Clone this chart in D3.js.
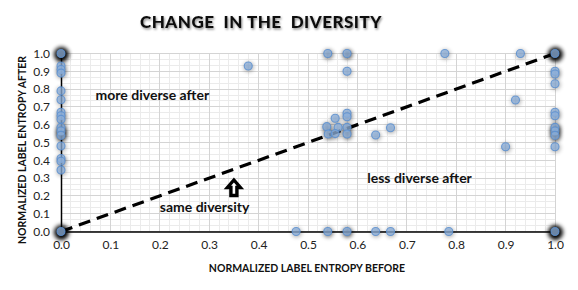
<!DOCTYPE html>
<html>
<head>
<meta charset="utf-8">
<script src="https://cdn.jsdelivr.net/npm/d3@7"></script>
<style>
  body { margin: 0; background: #fff; }
  svg { display: block; font-family: Lato, "Open Sans", sans-serif; }
</style>
</head>
<body>
<svg id="chart" width="578" height="290"></svg>
<script>
// normalized label entropy before / after, with rough count of overlapping points
const entropyBefore = [
  0, 0, 0, 0, 0, 0, 0, 0, 0, 0, 0, 0, 0, 0, 0, 0, 0,
  1, 1, 1, 1, 1, 1, 1, 1, 1, 1, 1,
  0.379, 0.54, 0.579, 0.579, 0.579, 0.579, 0.555, 0.538, 0.561, 0.579, 0.541, 0.555, 0.579, 0.637, 0.667,
  0.777, 0.93, 0.92, 0.90,
  0.476, 0.54, 0.579, 0.637, 0.667, 0.785
];
const entropyAfter = [
  1.0, 0.93, 0.91, 0.89, 0.79, 0.74, 0.67, 0.65, 0.63, 0.585, 0.565, 0.54, 0.48, 0.41, 0.395, 0.345, 0,
  1.0, 0.90, 0.885, 0.83, 0.67, 0.65, 0.585, 0.565, 0.54, 0.476, 0,
  0.93, 1.0, 1.0, 0.90, 0.664, 0.645, 0.636, 0.589, 0.585, 0.585, 0.548, 0.55, 0.548, 0.542, 0.583,
  1.0, 1.0, 0.739, 0.476,
  0, 0, 0, 0, 0, 0
];
const pointCount = [
  12, 1, 1, 1, 1, 1, 1, 1, 1, 2, 4, 4, 1, 1, 1, 1, 20,
  10, 1, 1, 1, 1, 1, 3, 3, 3, 1, 15,
  1, 2, 3, 1, 1, 1, 1, 2, 1, 2, 2, 1, 2, 1, 1,
  1, 1, 1, 1,
  1, 2, 3, 1, 1, 1
];
const tickValues = [0, 0.1, 0.2, 0.3, 0.4, 0.5, 0.6, 0.7, 0.8, 0.9, 1.0];

const annotations = [
  { text: "more diverse after", x: 0.07, y: 0.76 },
  { text: "less diverse after", x: 0.62, y: 0.29 },
  { text: "same diversity", x: 0.20, y: 0.13 }
];

const svg = d3.select("#chart");
const x = d3.scaleLinear().domain([0, 1]).range([61, 555]);
const y = d3.scaleLinear().domain([0, 1]).range([231.5, 53.5]);

const defs = svg.append("defs");
defs.append("filter").attr("id", "blur").attr("x", "-1").attr("y", "-1").attr("width", 3).attr("height", 3)
  .append("feGaussianBlur").attr("stdDeviation", 2);
const ts = defs.append("filter").attr("id", "tshadow").attr("x", "-0.1").attr("y", "-0.3").attr("width", 1.2).attr("height", 1.6);
ts.append("feDropShadow").attr("dx", 1).attr("dy", 1.5).attr("stdDeviation", 1.2)
  .attr("flood-color", "#000").attr("flood-opacity", 0.45);

// grid
const grid = svg.append("g");
grid.selectAll(".minx").data(d3.range(0, 1.0001, 0.02)).join("line")
  .attr("x1", d => x(d)).attr("x2", d => x(d)).attr("y1", y(0)).attr("y2", y(1))
  .attr("stroke", "#ebebeb").attr("shape-rendering", "crispEdges");
grid.selectAll(".miny").data(d3.range(0, 1.0001, 0.1 / 3)).join("line")
  .attr("y1", d => y(d)).attr("y2", d => y(d)).attr("x1", x(0)).attr("x2", x(1))
  .attr("stroke", "#ebebeb").attr("shape-rendering", "crispEdges");
grid.selectAll(".majx").data(tickValues).join("line")
  .attr("x1", d => x(d)).attr("x2", d => x(d)).attr("y1", y(0)).attr("y2", y(1))
  .attr("stroke", "#d4d4d4").attr("shape-rendering", "crispEdges");
grid.selectAll(".majy").data(tickValues).join("line")
  .attr("y1", d => y(d)).attr("y2", d => y(d)).attr("x1", x(0)).attr("x2", x(1))
  .attr("stroke", "#d4d4d4").attr("shape-rendering", "crispEdges");

// axes
const xAxis = svg.append("g").attr("transform", `translate(0,${y(0)})`)
  .call(d3.axisBottom(x).tickValues(tickValues).tickFormat(d3.format(".1f")).tickSize(0).tickPadding(9));
const yAxis = svg.append("g").attr("transform", `translate(${x(0)},0)`)
  .call(d3.axisLeft(y).tickValues(tickValues).tickFormat(d3.format(".1f")).tickSize(0).tickPadding(11));
[xAxis, yAxis].forEach(a => {
  a.select(".domain").attr("stroke", "#000").attr("stroke-width", 1.5);
  a.selectAll("text").attr("font-size", 12).attr("fill", "#222").attr("font-family", "Lato, sans-serif");
});

// diagonal y = x
svg.append("line")
  .attr("x1", x(0)).attr("y1", y(0)).attr("x2", x(1)).attr("y2", y(1))
  .attr("stroke", "#000").attr("stroke-width", 3.2).attr("stroke-dasharray", "12,7");

// points: blurred shadow darkens where many points overlap
const pts = entropyBefore.map((b, i) => ({ b, a: entropyAfter[i], n: pointCount[i] }));
svg.append("g").selectAll("circle").data(pts).join("circle")
  .attr("cx", d => x(d.b) + 0.5).attr("cy", d => y(d.a) + 1)
  .attr("r", d => d.n > 5 ? 7.5 : 5)
  .attr("fill", "#000")
  .attr("opacity", d => 1 - Math.pow(0.7, d.n))
  .attr("filter", "url(#blur)");
svg.append("g").selectAll("circle").data(pts).join("circle")
  .attr("cx", d => x(d.b)).attr("cy", d => y(d.a))
  .attr("r", 4)
  .attr("fill", "#8fb1dc").attr("fill-opacity", 0.75)
  .attr("stroke", "#5b8fd0").attr("stroke-width", 1.1).attr("stroke-opacity", 0.85);

// annotations
svg.append("g").selectAll("text").data(annotations).join("text")
  .attr("x", d => x(d.x)).attr("y", d => y(d.y))
  .attr("font-size", 14).attr("font-weight", 700).attr("fill", "#111")
  .attr("dominant-baseline", "middle")
  .text(d => d.text);

// up arrow pointing at the diagonal
const ax = x(0.35), ay = y(0.295);
svg.append("path")
  .attr("d", `M${ax},${ay + 1} l-6.5,7.5 h3.5 v8 h6 v-8 h3.5 z`)
  .attr("fill", "#fff").attr("stroke", "#000").attr("stroke-width", 3.4).attr("stroke-linejoin", "miter");

// titles
svg.append("text").attr("x", 261).attr("y", 28).attr("text-anchor", "middle")
  .attr("font-size", 17).attr("font-weight", 900).attr("letter-spacing", 0.5)
  .attr("fill", "#111").attr("filter", "url(#tshadow)")
  .attr("xml:space", "preserve")
  .text("CHANGE  IN THE  DIVERSITY");
svg.append("text").attr("x", 307).attr("y", 272).attr("text-anchor", "middle")
  .attr("font-size", 10.5).attr("font-weight", 700).attr("fill", "#111")
  .text("NORMALIZED LABEL ENTROPY BEFORE");
svg.append("text").attr("transform", "translate(26,150) rotate(-90)").attr("text-anchor", "middle")
  .attr("font-size", 10.5).attr("font-weight", 700).attr("fill", "#111")
  .text("NORMALIZED LABEL ENTROPY AFTER");
</script>
</body>
</html>
